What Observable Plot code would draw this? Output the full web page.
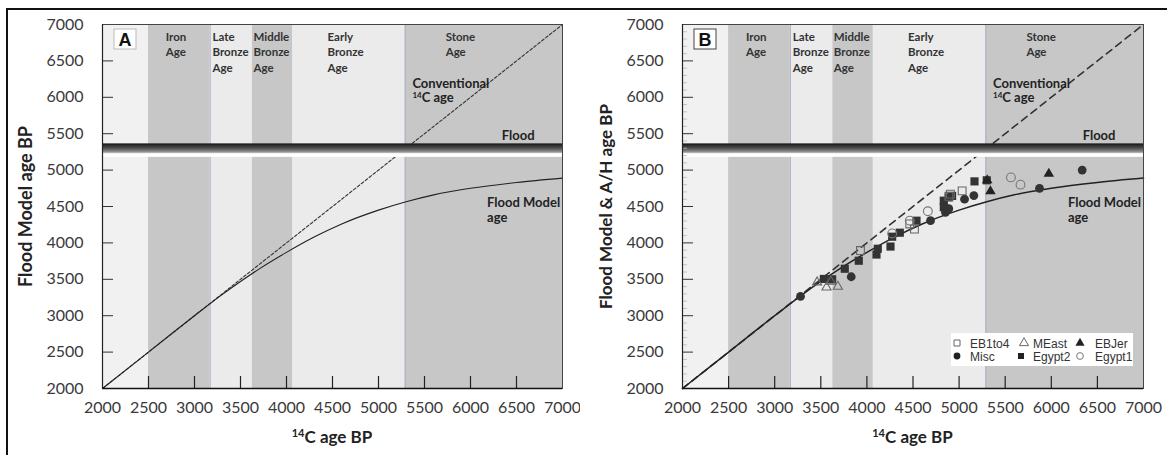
<!DOCTYPE html>
<html><head><meta charset="utf-8">
<script src="https://cdn.jsdelivr.net/npm/d3@7"></script>
<script src="https://cdn.jsdelivr.net/npm/@observablehq/plot@0.6"></script>
<style>
body{margin:0;background:#fff;}
#wrap{position:relative;width:1167px;height:455px;overflow:hidden;background:#fff;}
#border{position:absolute;left:6px;top:8px;width:1175px;height:470px;border:2px solid #111;box-sizing:border-box;}
#pa{position:absolute;left:0;top:0;}
#pb{position:absolute;left:580px;top:0;}
</style></head><body>
<div id="wrap"><div id="border"></div><div id="pa"></div><div id="pb"></div></div>
<script>
// ---- data ----
const eraNames  = ["", "Iron\nAge", "Late\nBronze\nAge", "Middle\nBronze\nAge", "Early\nBronze\nAge", "Stone\nAge"];
const eraStart  = [2000, 2500, 3170, 3630, 4070, 5290];
const eraEnd    = [2500, 3170, 3630, 4070, 5290, 7000];
const eraTone   = ["pale", "dark", "light", "dark", "light", "dark"];

const tickValues = [2000, 2500, 3000, 3500, 4000, 4500, 5000, 5500, 6000, 6500, 7000];
const innerTicks = [2500, 3000, 3500, 4000, 4500, 5000, 5500, 6000, 6500];

const conventional = [2000, 7000];          // 14C age = calendar age line
const floodLow = 5175, floodHigh = 5360;    // flood band (age BP)

const modelC14 = [2000, 2500, 3000, 3300, 3500, 3700, 4000, 4300, 4600, 5000, 5300, 5600, 6000, 6500, 7000];
const modelAge = [2000, 2500, 3000, 3290, 3470, 3640, 3870, 4080, 4260, 4450, 4565, 4660, 4750, 4830, 4890];

const eb1to4C14 = [3930, 4465, 4516, 4890, 4906, 5033];
const eb1to4Age = [3895, 4260, 4190, 4640, 4670, 4715];
const meastC14  = [3460, 3562, 3685, 3610];
const meastAge  = [3460, 3390, 3400, 3470];
const ebjerC14  = [5305, 5340, 5973];
const ebjerAge  = [4860, 4710, 4950];
const miscC14   = [3280, 3830, 4690, 4852, 4888, 5059, 5160, 5872, 6335];
const miscAge   = [3265, 3535, 4305, 4420, 4470, 4600, 4650, 4750, 5000];
const egypt2C14 = [3533, 3623, 3760, 3912, 4104, 4118, 4256, 4274, 4357, 4538, 4834, 4834, 4888, 4924, 5167, 5300];
const egypt2Age = [3505, 3500, 3645, 3755, 3840, 3920, 3950, 4085, 4140, 4305, 4490, 4580, 4625, 4645, 4845, 4860];
const egypt1C14 = [4274, 4465, 4661, 5562, 5666];
const egypt1Age = [4130, 4305, 4435, 4900, 4800];

// ---- build ----
const toneFill = {pale: "#f1f1f1", dark: "#c7c7c7", light: "#ebebeb"};
const eras = eraNames.map((n, i) => ({name: n, start: eraStart[i], end: eraEnd[i], tone: eraTone[i]}));
const labelAt = [null, 2688, 3196, 3641, 4446, 5730];
const eraLabels = eras.map((e, i) => ({...e, lx: labelAt[i]})).filter(e => e.name);
const model = modelC14.map((c, i) => ({c14: c, age: modelAge[i]}));
const pts = (xs, ys) => xs.map((x, i) => ({x, y: ys[i]}));
const minorTicks = d3.range(2100, 7000, 100).filter(v => v % 500 !== 0);

function panel(el, cfg) {
  const W = cfg.width, H = 455, ml = 102, mr = cfg.mr, mt = 24, mb = 67;
  const innerW = W - ml - mr, innerH = H - mt - mb;
  const marks = [
    Plot.rect(eras, {x1: "start", x2: "end", y1: 2000, y2: 7000, fill: d => toneFill[d.tone]}),
    Plot.ruleX([eraStart[2], eraStart[5]], {stroke: "#a4adc2", strokeWidth: 1}),
    Plot.line(conventional, {x: d => d, y: d => d, stroke: "#333", strokeWidth: cfg.dashW, strokeDasharray: cfg.dash}),
    Plot.line(model, {x: "c14", y: "age", curve: "monotone-x", stroke: "#222", strokeWidth: cfg.curveW}),
    Plot.rect([{lo: floodLow, hi: floodHigh}], {x1: 2000, x2: 7000, y1: "lo", y2: "hi", fill: `url(#${cfg.grad})`}),
  ];
  if (cfg.points) {
    marks.push(
      Plot.tickY(minorTicks, {y: d => d, insetRight: innerW - 5, stroke: "#b8b8b8", strokeWidth: 0.8}),
      Plot.dot(pts(egypt2C14, egypt2Age), {x: "x", y: "y", symbol: "square", r: 4.6, fill: "#333", stroke: "none"}),
      Plot.dot(pts(miscC14, miscAge), {x: "x", y: "y", symbol: "circle", r: 4.4, fill: "#333", stroke: "none"}),
      Plot.dot(pts(ebjerC14, ebjerAge), {x: "x", y: "y", symbol: "triangle", r: 3.9, fill: "#222", stroke: "none"}),
      Plot.dot(pts(eb1to4C14, eb1to4Age), {x: "x", y: "y", symbol: "square", r: 4.4, fill: "none", stroke: "#666", strokeWidth: 1.1}),
      Plot.dot(pts(meastC14, meastAge), {x: "x", y: "y", symbol: "triangle", r: 3.4, fill: "none", stroke: "#666", strokeWidth: 1.1}),
      Plot.dot(pts(egypt1C14, egypt1Age), {x: "x", y: "y", symbol: "circle", r: 4.4, fill: "none", stroke: "#777", strokeWidth: 1.1})
    );
  }
  marks.push(
    Plot.tickY(innerTicks, {y: d => d, insetRight: innerW - 11, stroke: "#333", strokeWidth: 1}),
    Plot.tickX(innerTicks, {x: d => d, insetTop: innerH - 12, stroke: "#222", strokeWidth: 1.2}),
    Plot.frame({stroke: "#444", strokeWidth: 1}),
    Plot.ruleY([2000], {stroke: "#111", strokeWidth: 1.6}),
    Plot.ruleX([2000], {stroke: "#222", strokeWidth: 1.2}),
    Plot.axisY(tickValues, {anchor: "left", tickSize: 0, tickPadding: 19, fontSize: 16, fill: "#3a3a3a", tickFormat: d => String(d)}),
    Plot.axisX(tickValues, {anchor: "bottom", tickSize: 0, tickPadding: 13, fontSize: 16, fill: "#3a3a3a", tickFormat: d => String(d)}),
    Plot.text([cfg.yTitle], {text: d => d, frameAnchor: "left", textAnchor: "middle", rotate: -90, dx: -76, fontSize: cfg.yTitleSize, fontWeight: "bold", fill: "#222"}),
    Plot.text(eraLabels, {x: "lx", y: 7000, text: "name", lineAnchor: "top", dy: 5, textAnchor: "start", fontSize: 11.5, fontWeight: "bold", lineHeight: 1.35, fill: "#333"}),
    Plot.text(["Flood"], {x: 6340, y: 5475, text: d => d, textAnchor: "start", fontSize: 13, fontWeight: "bold", fill: "#222"}),
    Plot.text(["Flood Model\nage"], {x: 6180, y: 4640, text: d => d, lineAnchor: "top", textAnchor: "start", fontSize: 13, fontWeight: "bold", lineHeight: 1.15, fill: "#222"})
  );
  const chart = Plot.plot({
    width: W, height: H, marginLeft: ml, marginRight: mr, marginTop: mt, marginBottom: mb,
    x: {domain: [2000, 7000], axis: null},
    y: {domain: [2000, 7000], axis: null},
    style: {fontFamily: "Lato, 'Open Sans', sans-serif", fontSize: "16px", color: "#333", background: "transparent"},
    marks
  });
  const svg = d3.select(chart);
  svg.insert("defs", ":first-child").html(
    `<linearGradient id="${cfg.grad}" x1="0" y1="0" x2="0" y2="1">
      <stop offset="0" stop-color="#141414"/><stop offset="0.14" stop-color="#2c2c2c"/>
      <stop offset="0.38" stop-color="#555"/><stop offset="0.64" stop-color="#959595"/>
      <stop offset="0.72" stop-color="#cfcfcf"/><stop offset="0.76" stop-color="#fff"/>
      <stop offset="1" stop-color="#fff"/></linearGradient>`);
  const sx = chart.scale("x"), sy = chart.scale("y");
  const font = "Lato, 'Open Sans', sans-serif";
  const g = svg.append("g").attr("text-anchor", "start");
  // panel letter
  g.append("rect").attr("x", ml + 12).attr("y", mt + 5).attr("width", 22).attr("height", 20)
    .attr("fill", "#fff").attr("stroke", cfg.letterStroke).attr("stroke-width", 1);
  g.append("text").attr("x", ml + 23).attr("y", mt + 22).attr("text-anchor", "middle")
    .attr("font-family", "'Liberation Sans', Arial, sans-serif").attr("font-weight", "bold").attr("font-size", 18)
    .attr("fill", "#111").text(cfg.letter);
  // Conventional 14C age label
  const cx = sx.apply(5374);
  const t1 = g.append("text").attr("text-anchor", "start").attr("font-family", font).attr("font-weight", "bold").attr("font-size", 13).attr("fill", "#222");
  t1.append("tspan").attr("x", cx).attr("y", sy.apply(6125)).text("Conventional");
  const l2 = t1.append("tspan").attr("x", cx).attr("y", sy.apply(5930));
  l2.append("tspan").attr("font-size", 8).attr("dy", -4).text("14");
  l2.append("tspan").attr("dy", 4).text("C age");
  // x title
  const xt = g.append("text").attr("x", (ml + W - mr) / 2).attr("y", 443).attr("text-anchor", "middle")
    .attr("font-family", font).attr("font-weight", "bold").attr("font-size", 17).attr("fill", "#222");
  xt.append("tspan").attr("font-size", 11).attr("dy", -6).text("14");
  xt.append("tspan").attr("dy", 6).text("C age BP");
  if (cfg.points) {
    const lg = svg.append("g").attr("font-family", "'Liberation Sans', Arial, sans-serif").attr("font-size", 12).attr("fill", "#333").attr("text-anchor", "start");
    lg.append("rect").attr("x", 371).attr("y", 333).attr("width", 182).attr("height", 33).attr("fill", "#fff");
    const items = [
      {t: "EB1to4", s: d3.symbolSquare, f: "none", st: "#666", x: 377, tx: 390, y: 343},
      {t: "MEast", s: d3.symbolTriangle, f: "none", st: "#666", x: 444, tx: 453, y: 343},
      {t: "EBJer", s: d3.symbolTriangle, f: "#222", st: "none", x: 500, tx: 515, y: 343},
      {t: "Misc", s: d3.symbolCircle, f: "#222", st: "none", x: 377, tx: 390, y: 356},
      {t: "Egypt2", s: d3.symbolSquare, f: "#222", st: "none", x: 441, tx: 453, y: 356},
      {t: "Egypt1", s: d3.symbolCircle, f: "none", st: "#777", x: 500, tx: 515, y: 356}
    ];
    for (const it of items) {
      lg.append("path").attr("d", d3.symbol(it.s, 36)()).attr("transform", `translate(${it.x},${it.y})`)
        .attr("fill", it.f).attr("stroke", it.st).attr("stroke-width", 1);
      lg.append("text").attr("x", it.tx).attr("y", it.y + 4.5).text(it.t);
    }
  }
  document.getElementById(el).appendChild(chart);
}

panel("pa", {width: 580, mr: 18, yTitle: "Flood Model age BP", yTitleSize: 18, letter: "A", grad: "fgA", dash: "3,2", dashW: 1.1, curveW: 1.1, points: false, letterStroke: "#bbb"});
panel("pb", {width: 587, mr: 24, yTitle: "Flood Model & A/H age BP", yTitleSize: 17, letter: "B", grad: "fgB", dash: "7,5", dashW: 1.6, curveW: 1.5, points: true, letterStroke: "#444"});
</script>
</body></html>
